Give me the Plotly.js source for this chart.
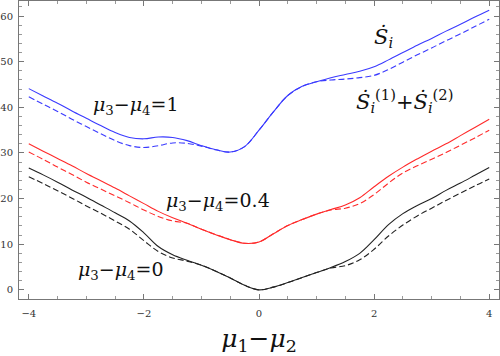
<!DOCTYPE html>
<html>
<head>
<meta charset="utf-8">
<script src="https://cdn.plot.ly/plotly-3.0.1.min.js"></script>
<style>
  body { margin: 0; }
  #plot { width: 500px; height: 356px; }
</style>
</head>
<body>
<div id="plot"></div>
<script>
// mu1 - mu2 grid
let mu = [-4, -3.75, -3.5, -3.25, -3, -2.75, -2.5, -2.25, -2, -1.75, -1.5, -1.25, -1, -0.75, -0.5, -0.25,
          0, 0.25, 0.5, 0.75, 1, 1.25, 1.5, 1.75, 2, 2.25, 2.5, 2.75, 3, 3.25, 3.5, 3.75, 4]

// mu3 - mu4 = 1 (blue)
let blue_full = [44.1, 42.5, 40.9, 39.2, 37.6, 36.0, 34.5, 33.4, 33.1, 33.5, 33.4, 32.7, 31.6, 30.7, 30.2, 31.4,
                 35.0, 39.0, 42.6, 44.6, 45.6, 46.5, 47.2, 47.9, 48.9, 50.4, 52.0, 53.6, 55.1, 56.7, 58.2, 59.8, 61.3]
let blue_sum  = [42.3, 40.7, 39.1, 37.4, 35.8, 34.2, 32.7, 31.6, 31.2, 31.6, 32.2, 32.1, 31.5, 30.7, 30.2, 31.4,
                 35.0, 39.0, 42.6, 44.6, 45.6, 46.0, 46.2, 46.5, 47.0, 48.3, 49.9, 51.5, 53.0, 54.6, 56.1, 57.7, 59.3]

// mu3 - mu4 = 0.4 (red)
let red_full = [32.0, 30.4, 28.8, 27.2, 25.5, 23.9, 22.3, 20.6, 18.9, 17.2, 15.8, 14.6, 13.3, 12.1, 11.0, 10.2,
                10.5, 12.3, 14.1, 15.4, 16.6, 17.6, 18.6, 20.2, 22.6, 24.9, 26.9, 28.7, 30.4, 32.0, 33.8, 35.6, 37.4]
let red_sum  = [30.2, 28.6, 26.9, 25.3, 23.6, 22.1, 20.6, 19.1, 17.5, 16.1, 15.1, 14.6, 13.3, 12.1, 11.0, 10.2,
                10.5, 12.3, 14.1, 15.4, 16.6, 17.5, 17.9, 18.9, 20.9, 23.4, 25.6, 27.2, 28.6, 30.1, 31.7, 33.3, 35.0]

// mu3 - mu4 = 0 (black)
let black_full = [26.7, 25.2, 23.6, 21.9, 20.3, 18.6, 16.9, 15.1, 12.5, 9.5, 7.7, 6.5, 5.4, 4.1, 2.6, 1.0,
                  0.0, 0.6, 1.6, 2.7, 3.8, 4.9, 6.2, 8.0, 11.0, 14.3, 16.7, 18.5, 20.0, 21.8, 23.4, 25.1, 26.8]
let black_sum  = [24.8, 23.3, 21.7, 20.1, 18.4, 16.8, 15.1, 13.3, 10.8, 8.4, 7.0, 6.3, 5.4, 4.1, 2.6, 1.0,
                  0.0, 0.6, 1.6, 2.7, 3.8, 4.8, 5.3, 6.6, 8.9, 11.8, 14.2, 16.2, 17.9, 19.6, 21.2, 22.8, 24.3]

let colors = ["#3a3aff", "#ff2a2a", "#222222"]
let full_series = [blue_full, red_full, black_full]
let sum_series = [blue_sum, red_sum, black_sum]

let data = []
for (let k = 0; k < 3; k++) {
  data.push({
    x: mu, y: sum_series[k], type: "scatter", mode: "lines",
    line: {color: colors[k], width: 1.1, dash: "6px,3px", shape: "spline", smoothing: 1}
  })
  data.push({
    x: mu, y: full_series[k], type: "scatter", mode: "lines",
    line: {color: colors[k], width: 1.1, shape: "spline", smoothing: 1}
  })
}

let serif = "DejaVu Serif"
let label_font = {family: serif, size: 19, color: "#111"}
let rate_font = {family: serif, size: 21, color: "#111"}

let layout = {
  width: 500,
  height: 356,
  margin: {l: 19, r: 1, t: 1, b: 57},
  showlegend: false,
  paper_bgcolor: "white",
  plot_bgcolor: "white",
  font: {family: serif},
  xaxis: {
    range: [-4.17, 4.17],
    dtick: 2,
    ticks: "inside", ticklen: 5, tickcolor: "#777",
    minor: {dtick: 0.5, ticks: "inside", ticklen: 3, tickcolor: "#999"},
    showline: true, linecolor: "#777", mirror: "allticks",
    showgrid: false, zeroline: false,
    tickfont: {family: serif, size: 10, color: "#333"},
    ticklabelstandoff: 5,
    title: {text: "<i>μ</i><sub>1</sub>−<i>μ</i><sub>2</sub>", font: {family: serif, size: 25, color: "#111"}, standoff: 21}
  },
  yaxis: {
    range: [-2, 63.3],
    dtick: 10,
    ticks: "inside", ticklen: 5, tickcolor: "#777",
    minor: {dtick: 2, ticks: "inside", ticklen: 3, tickcolor: "#999"},
    showline: true, linecolor: "#777", mirror: "allticks",
    showgrid: false, zeroline: false,
    tickfont: {family: serif, size: 10, color: "#333"},
    ticklabelstandoff: 3
  },
  annotations: [
    {x: -2.13, y: 40.4, text: "<i>μ</i><sub>3</sub>−<i>μ</i><sub>4</sub>=1", showarrow: false, font: label_font},
    {x: -0.72, y: 19.3, text: "<i>μ</i><sub>3</sub>−<i>μ</i><sub>4</sub>=0.4", showarrow: false, font: label_font},
    {x: -2.4, y: 4.2, text: "<i>μ</i><sub>3</sub>−<i>μ</i><sub>4</sub>=0", showarrow: false, font: label_font},
    {x: 2.17, y: 55.2, text: "<i>Ṡ</i><sub><i>i</i></sub>", showarrow: false, font: rate_font},
    {x: 2.52, y: 41.3, text: "<i>Ṡ</i><sub><i>i</i></sub><sup>(1)</sup>+<i>Ṡ</i><sub><i>i</i></sub><sup>(2)</sup>", showarrow: false, font: rate_font}
  ]
}

Plotly.newPlot("plot", data, layout, {displayModeBar: false, staticPlot: true})
</script>
</body>
</html>
